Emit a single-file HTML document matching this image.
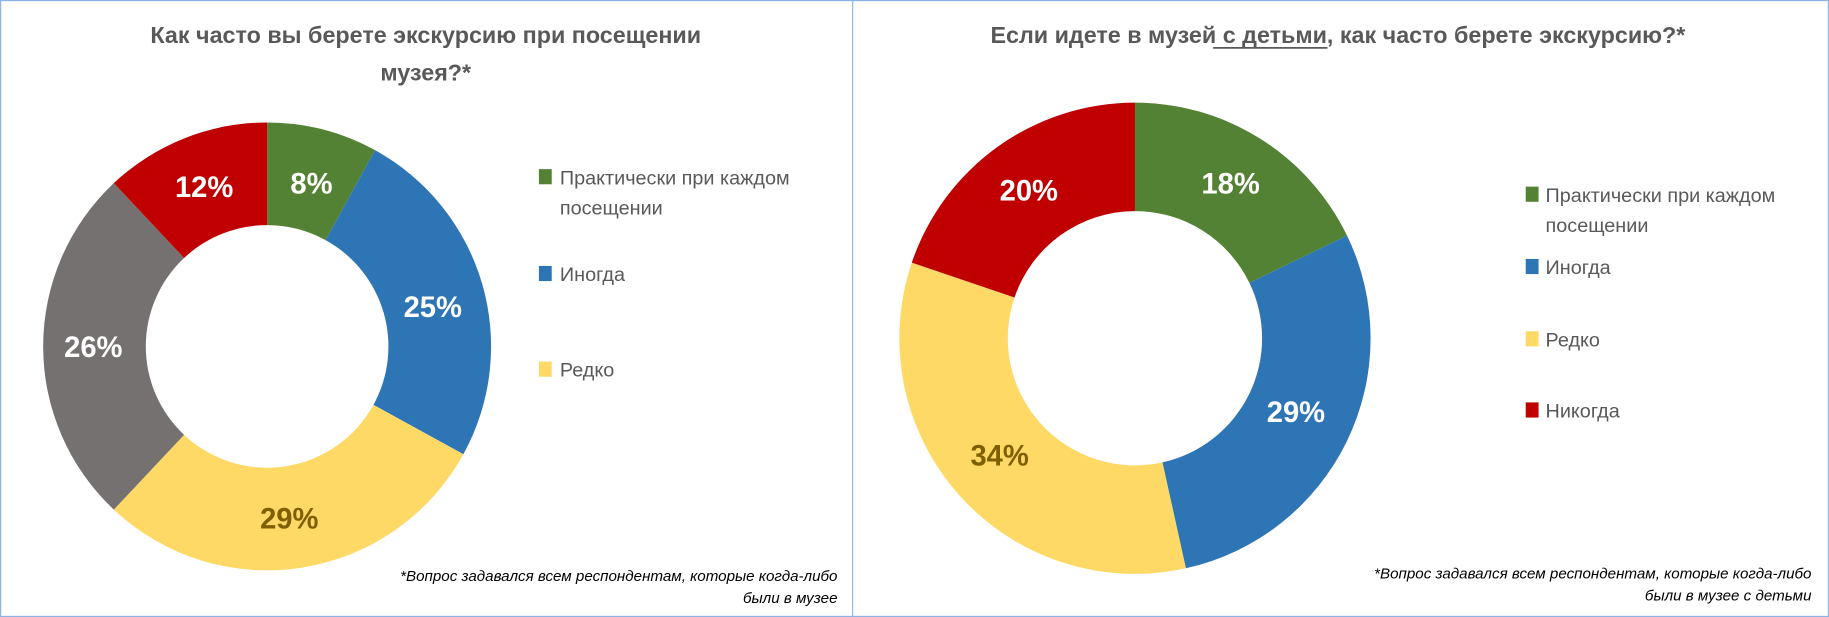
<!DOCTYPE html>
<html><head><meta charset="utf-8"><style>
html,body{margin:0;padding:0;background:#fff}
svg{display:block}
text{font-family:"Liberation Sans","DejaVu Sans",sans-serif}
</style></head><body>
<svg id="s" width="1829" height="617" viewBox="0 0 1568 529" preserveAspectRatio="none" xmlns="http://www.w3.org/2000/svg">
<rect x="0.5" y="0.5" width="1567" height="528" fill="#fff" stroke="#8db3e2" stroke-width="1"/>
<line x1="731" y1="0" x2="731" y2="529" stroke="#8db3e2" stroke-width="1"/>
<g id="d"></g>
<g fill="#595959" font-weight="bold" font-size="20" text-anchor="middle">
<text x="365" y="37">Как часто вы берете экскурсию при посещении</text>
<text x="365" y="69">музея?*</text>
<text x="1147" y="37">Если идете в музей с детьми, как часто берете экскурсию?*</text>
</g>
<line x1="1040" y1="41" x2="1138" y2="41" stroke="#595959" stroke-width="1.5"/>
<g font-size="17" fill="#595959">
<rect x="462" y="145" width="11" height="13" fill="#548235"/><text x="480" y="158">Практически при каждом</text><text x="480" y="184">посещении</text>
<rect x="462" y="228" width="11" height="13" fill="#2e75b6"/><text x="480" y="241">Иногда</text>
<rect x="462" y="310" width="11" height="13" fill="#ffd966"/><text x="480" y="323">Редко</text>
<rect x="1308" y="160" width="11" height="13" fill="#548235"/><text x="1325" y="173">Практически при каждом</text><text x="1325" y="199">посещении</text>
<rect x="1308" y="222" width="11" height="13" fill="#2e75b6"/><text x="1325" y="235">Иногда</text>
<rect x="1308" y="284" width="11" height="13" fill="#ffd966"/><text x="1325" y="297">Редко</text>
<rect x="1308" y="345" width="11" height="13" fill="#c00000"/><text x="1325" y="358">Никогда</text>
</g>
<g font-size="13" font-style="italic" fill="#000" text-anchor="end">
<text x="718" y="498">*Вопрос задавался всем респондентам, которые когда-либо</text>
<text x="718" y="517">были в музее</text>
<text x="1553" y="496">*Вопрос задавался всем респондентам, которые когда-либо</text>
<text x="1553" y="515">были в музее с детьми</text>
</g>
<g font-size="25" font-weight="bold" text-anchor="middle" fill="#fff">
<text x="267" y="166">8%</text><text x="175" y="169">12%</text><text x="371" y="272">25%</text><text x="80" y="306">26%</text><text x="248" y="453" fill="#7f6000">29%</text>
<text x="1055" y="166">18%</text><text x="882" y="172">20%</text><text x="1111" y="362">29%</text><text x="857" y="399" fill="#7f6000">34%</text>
</g>
</svg>
<script>
function donut(cx,cy,R,r,vals,cols){
 var g=document.getElementById('d'),t=vals.reduce((a,b)=>a+b,0),a=0,s='';
 vals.forEach(function(v,i){
  var a0=a/t*2*Math.PI,a1=(a+v)/t*2*Math.PI;a+=v;
  var p=function(rad,an){return [cx+rad*Math.sin(an),cy-rad*Math.cos(an)]};
  var o0=p(R,a0),o1=p(R,a1),i1=p(r,a1),i0=p(r,a0),l=(a1-a0)>Math.PI?1:0;
  s+='<path fill="'+cols[i]+'" d="M'+o0+'A'+R+','+R+' 0 '+l+' 1 '+o1+'L'+i1+'A'+r+','+r+' 0 '+l+' 0 '+i0+'Z"/>';
 });
 g.innerHTML+=s;
}
donut(229,297,192,104,[8,25,29,26,12],['#548235','#2e75b6','#ffd966','#767171','#c00000']);
donut(973,290,202,109,[18,29,34,20],['#548235','#2e75b6','#ffd966','#c00000']);
</script>
</body></html>
